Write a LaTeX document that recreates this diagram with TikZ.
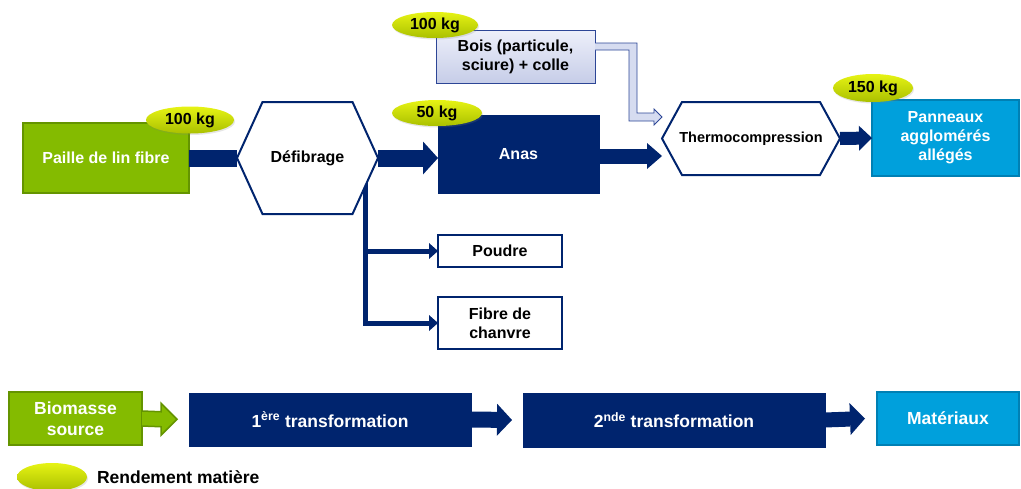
\documentclass[tikz,border=0pt]{standalone}
\usepackage{fontspec}
\setmainfont{Liberation Sans}
\usetikzlibrary{positioning,arrows.meta,calc,backgrounds,shadows,shapes.geometric}
\definecolor{lnNavy}{RGB}{0,36,110}
\definecolor{lnGreen}{RGB}{132,187,0}
\definecolor{lnGreenDark}{RGB}{100,148,0}
\definecolor{lnCyan}{RGB}{0,160,220}
\definecolor{lnCyanDark}{RGB}{0,128,180}
\definecolor{lnOvalTop}{RGB}{230,243,20}
\definecolor{lnOvalBot}{RGB}{170,192,0}
\definecolor{lnLilacTop}{RGB}{238,240,250}
\definecolor{lnLilacBot}{RGB}{198,205,232}
\definecolor{lnLilacLine}{RGB}{45,70,150}
\definecolor{lnFeed}{RGB}{214,220,240}
\tikzset{
    base/.style={font=\fontsize{16}{19}\selectfont\bfseries, align=center, inner sep=0pt, outer sep=0pt},
    source/.style={base, rectangle, fill=lnGreen, draw=lnGreenDark, line width=1.5pt, text=white},
    process/.style={base, rectangle, fill=lnNavy, draw=lnNavy, text=white},
    product/.style={base, rectangle, fill=lnCyan, draw=lnCyanDark, line width=1.2pt, text=white},
    byproduct/.style={base, rectangle, fill=white, draw=lnNavy, line width=1.5pt, text=black},
    input/.style={base, rectangle, top color=lnLilacTop, bottom color=lnLilacBot, draw=lnLilacLine, line width=0.8pt},
    stage/.style={base, text=black},
    hexline/.style={fill=white, draw=lnNavy, line width=2pt, line join=miter},
    yield/.style={base, ellipse, minimum width=88pt, minimum height=27pt,
                  top color=lnOvalTop, bottom color=lnOvalBot,
                  drop shadow={opacity=0.2, shadow xshift=1pt, shadow yshift=-1.5pt}},
    bar/.style={draw=lnNavy, line width=17pt},
    flow/.style={draw=lnNavy, line width=17pt, -{Triangle[length=15pt,width=33pt,line width=0pt]}},
    branch/.style={draw=lnNavy, line width=5pt, line join=miter, -{Triangle[length=9pt,width=16pt,line width=0pt]}},
    feedarrow/.style={fill=lnFeed, draw=lnLilacLine, line width=0.8pt, line join=miter},
    legend/.style={base, font=\fontsize{17.5}{21}\selectfont\bfseries}
}
\newcommand{\hexframe}[2]{%
  \filldraw[hexline] (#1.west) -- ($(#1.north west)+(#2,0)$) -- ($(#1.north east)+(-#2,0)$)
    -- (#1.east) -- ($(#1.south east)+(-#2,0)$) -- ($(#1.south west)+(#2,0)$) -- cycle;}

\begin{document}
\begin{tikzpicture}[x=1pt, y=-1pt]
  \useasboundingbox (0,0) rectangle (1021,488);

  % Filiere lin
  \node[source, minimum width=166pt, minimum height=70pt] (paille) at (106,158) {Paille de lin fibre};
  \node[stage, minimum width=141pt, minimum height=112pt] (defib) at (307.5,158) {Défibrage};
  \node[process, minimum width=161pt, minimum height=78pt] (anas) at (518.5,154) {Anas};
  \node[input, minimum width=159pt, minimum height=53pt] (bois) at (515.5,56.5) {Bois (particule,\\sciure) + colle};
  \node[stage, font=\fontsize{14.5}{17}\selectfont\bfseries, minimum width=178pt, minimum height=73pt] (thermo) at (751,138.5) {Thermocompression};
  \node[product, minimum width=147pt, minimum height=76pt] (panneaux) at (945.5,138) {Panneaux\\agglomérés\\allégés};
  \node[byproduct, minimum width=124pt, minimum height=32pt] (poudre) at (500,251) {Poudre};
  \node[byproduct, minimum width=124pt, minimum height=52pt] (fibre) at (500,323) {Fibre de\\chanvre};

  % Rendements
  \node[yield] (rdtPaille) at ($(paille.north east)+(1,-3)$) {100 kg};
  \node[yield, minimum width=90pt, minimum height=26pt] (rdtAnas) at ($(anas.north west)+(-1,-2)$) {50 kg};
  \node[yield, minimum width=86pt, minimum height=26pt] (rdtBois) at ($(bois.north west)+(-1,-5)$) {100 kg};
  \node[yield, minimum width=80pt, minimum height=28pt] (rdtPanneaux) at ($(panneaux.north west)+(1,-12)$) {150 kg};

  % Hexagones et sorties secondaires
  \begin{scope}[on background layer]
    \draw[branch] ($(defib.center)+(57.5,0)$) coordinate (split) -- (split |- fibre.west) -- (fibre.west);
    \draw[branch] (split |- poudre.west) -- (poudre.west);
    \hexframe{defib}{25.5}
    \hexframe{thermo}{20}
  \end{scope}

  % Flux
  \draw[bar] (paille.east) -- (defib.west);
  \draw[flow] (defib.east) -- (defib.east -| anas.west);
  \draw[flow, line width=15pt, -{Triangle[length=15pt,width=26pt,line width=0pt]}]
    ($(anas.east)+(0,2)$) -- ($(anas.east -| thermo.west)+(0,2)$);
  \draw[flow, line width=13pt, -{Triangle[length=13pt,width=25pt,line width=0pt]}] (thermo.east) -- (panneaux.west);

  % Apport bois
  \coordinate (bend) at ($(bois.east)+(38,-10)$);
  \coordinate (feed) at ($(thermo.west)+(0,-21.5)$);
  \filldraw[feedarrow] ($(bois.east |- bend)+(0,-3.5)$) -- ($(bend)+(4,-3.5)$) -- ($(bend |- feed)+(4,-4)$)
    -- ($(feed)+(-8,-4)$) -- ($(feed)+(-8,-8)$) -- (feed) -- ($(feed)+(-8,8)$) -- ($(feed)+(-8,4)$)
    -- ($(bend |- feed)+(-4,4)$) -- ($(bend)+(-4,3.5)$) -- ($(bois.east |- bend)+(0,3.5)$);

  % Legende
  \node[source, legend, minimum width=133pt, minimum height=53pt] (biomasse) at (75.5,418.5) {Biomasse\\source};
  \node[process, legend, minimum width=282pt, minimum height=53pt] (first) at (330,419.5) {1\textsuperscript{ère} transformation};
  \node[process, legend, minimum width=302pt, minimum height=54pt] (second) at (674,420) {2\textsuperscript{nde} transformation};
  \node[product, legend, minimum width=142pt, minimum height=53pt] (mat) at (948,418.5) {Matériaux};

  \coordinate (gtip) at ($(biomasse.east)!0.745!(first.west)$);
  \filldraw[fill=lnGreen, draw=lnGreenDark, line width=1.5pt, line join=miter]
    ($(biomasse.east)+(0,-7.5)$) -- ($(gtip)+(-16,-7.5)$) -- ($(gtip)+(-16,-16)$) -- (gtip)
    -- ($(gtip)+(-16,16)$) -- ($(gtip)+(-16,7.5)$) -- ($(biomasse.east)+(0,7.5)$);
  \draw[flow, line width=16pt, -{Triangle[length=15pt,width=32pt,line width=0pt]}] (first.east) -- ($(second.west)+(-11,0)$);
  \draw[flow, line width=15pt, -{Triangle[length=15pt,width=32pt,line width=0pt]}] (second.east) -- ($(mat.west)+(-12,0)$);

  \node[yield, minimum width=70pt, minimum height=28pt] (key) at (52,477) {};
  \node[legend, anchor=west] (keytext) at (97,477) {Rendement matière};
\end{tikzpicture}
\end{document}
